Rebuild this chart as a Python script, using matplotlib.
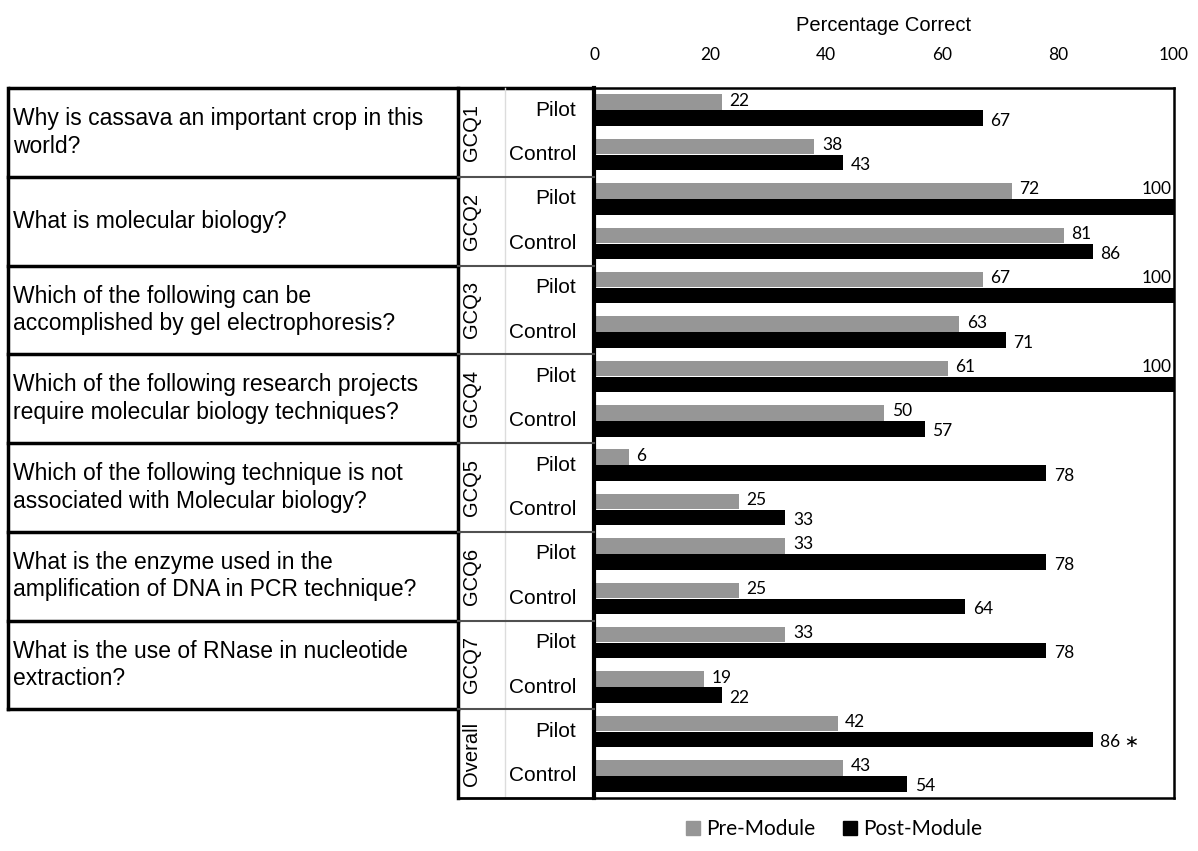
import numpy as np
import matplotlib.pyplot as plt
from matplotlib.patches import Patch

# questions shown in the left table
questions = [
    "Why is cassava an important crop in this\nworld?",
    "What is molecular biology?",
    "Which of the following can be\naccomplished by gel electrophoresis?",
    "Which of the following research projects\nrequire molecular biology techniques?",
    "Which of the following technique is not\nassociated with Molecular biology?",
    "What is the enzyme used in the\namplification of DNA in PCR technique?",
    "What is the use of RNase in nucleotide\nextraction?",
]
groups = ["GCQ1", "GCQ2", "GCQ3", "GCQ4", "GCQ5", "GCQ6", "GCQ7", "Overall"]
subgroups = ["Pilot", "Control"]

# Pilot / Control per group, top to bottom
pre = [22, 38, 72, 81, 67, 63, 61, 50, 6, 25, 33, 25, 33, 19, 42, 43]
post = [67, 43, 100, 86, 100, 71, 100, 57, 78, 33, 78, 64, 78, 22, 86, 54]
post_labels = [str(v) for v in post]
post_labels[14] = "86 \u2217"

W, H = 1198, 851
fig = plt.figure(figsize=(W / 100, H / 100), dpi=100)
top, bot = 88, 798
ax = fig.add_axes([594 / W, 1 - bot / H, 580 / W, (bot - top) / H])
tab = fig.add_axes([0, 1 - bot / H, 594 / W, (bot - top) / H], sharey=ax)

num_font = ["Lato", "DejaVu Sans"]
txt_font = "Liberation Sans"

y = np.arange(len(pre))
ax.barh(y - 0.18, pre, height=0.35, color="#969696")
ax.barh(y + 0.18, post, height=0.35, color="black")
ax.set_xlim(0, 100)
ax.set_ylim(15.5, -0.5)

ax.xaxis.tick_top()
ax.set_xticks(range(0, 101, 20))
ax.tick_params(axis="x", length=0, pad=18, labelsize=12.5)
for t in ax.get_xticklabels():
    t.set_family(num_font)
ax.set_yticks([])
ax.xaxis.set_label_position("top")
ax.set_xlabel("Percentage Correct", fontsize=14.5, family=txt_font, labelpad=11.5)
for s in ["top", "right", "bottom"]:
    ax.spines[s].set_linewidth(1.8)
ax.spines["left"].set_linewidth(3)

# data labels
for i in range(len(pre)):
    ax.annotate(str(pre[i]), (pre[i], i - 0.18), xytext=(5.5, -2.5),
                textcoords="offset points", va="baseline", ha="left",
                fontsize=12.5, family=num_font)
    if post[i] >= 100:
        ax.annotate(post_labels[i], (100, i - 0.18), xytext=(-2, -2.5),
                    textcoords="offset points", va="baseline", ha="right",
                    fontsize=12.5, family=num_font)
    else:
        ax.annotate(post_labels[i], (post[i], i + 0.18), xytext=(5.5, -5.5),
                    textcoords="offset points", va="baseline", ha="left",
                    fontsize=12.5, family=num_font)

# left table
tab.set_xlim(0, 594)
tab.axis("off")
lw = 2.5
tab.plot([8, 594], [-0.5, -0.5], color="black", lw=lw, clip_on=False, solid_capstyle="butt")
tab.plot([8, 8], [-0.5, 13.5], color="black", lw=lw, clip_on=False)
tab.plot([458, 458], [-0.5, 15.5], color="black", lw=lw, clip_on=False)
tab.plot([505, 505], [-0.5, 15.5], color="#dcdcdc", lw=1, clip_on=False)
for g in range(7):
    yb = 2 * g + 1.5
    tab.plot([8, 458], [yb, yb], color="black", lw=lw, clip_on=False)
    tab.plot([458, 594], [yb, yb], color="#505050", lw=1.5, clip_on=False)
tab.plot([458, 594], [15.5, 15.5], color="black", lw=2, clip_on=False)

for g, q in enumerate(questions):
    tab.text(13, 2 * g + 0.5, q, ha="left", va="center", fontsize=16.5,
             family=txt_font, linespacing=1.25)
for g, name in enumerate(groups):
    tab.text(472, 2 * g + 0.5, name, ha="center", va="center", rotation=90,
             fontsize=14.5, family=txt_font)
    for k, sub in enumerate(subgroups):
        tab.text(576, 2 * g + k, sub, ha="right", va="center", fontsize=15,
                 family=txt_font)

handles = [Patch(color="#969696", label="Pre-Module"),
           Patch(color="black", label="Post-Module")]
fig.legend(handles=handles, loc="center", bbox_to_anchor=(834 / W, 1 - 829 / H),
           ncol=2, frameon=False, handlelength=0.67, handleheight=0.67,
           handletextpad=0.3, columnspacing=1.35,
           prop={"family": num_font, "size": 15})

fig.savefig("out.png", dpi=100)
